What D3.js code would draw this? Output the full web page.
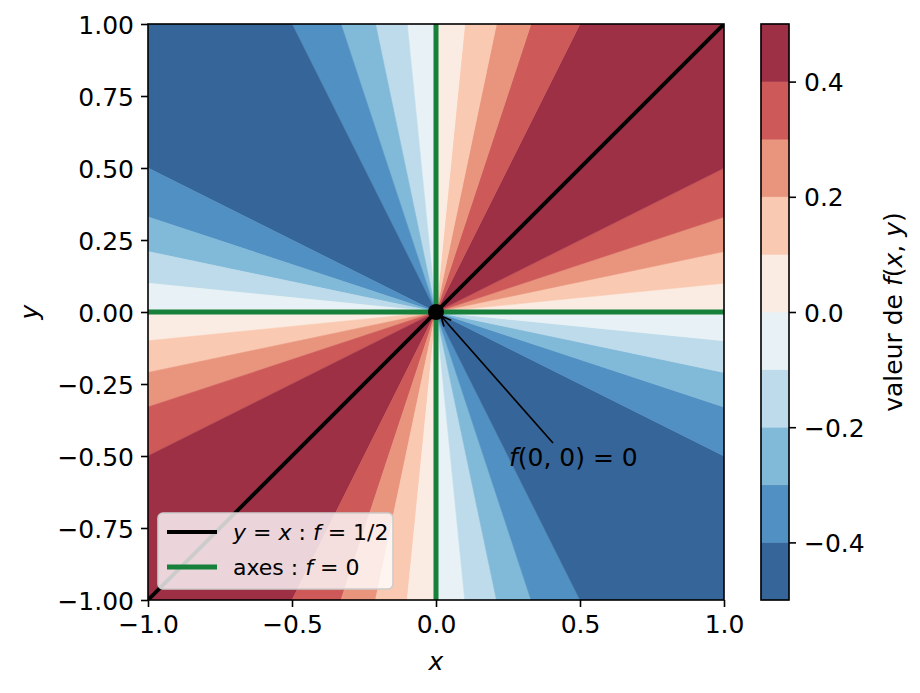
<!DOCTYPE html>
<html>
<head>
<meta charset="utf-8">
<script src="https://cdn.jsdelivr.net/npm/d3@7"></script>
<style>
body { margin: 0; background: #fff; }
svg { font-family: "DejaVu Sans", sans-serif; }
</style>
</head>
<body>
<div id="chart"></div>
<script>
// contour levels and the colour of each band (RdBu_r, alpha 0.85 over white)
const levels = [-0.5, -0.4, -0.3, -0.2, -0.1, 0.0, 0.1, 0.2, 0.3, 0.4, 0.5];
const bandColors = ['#366699', '#5190c2', '#81b9d8', '#bddbeb', '#e8f1f5',
                    '#fbece3', '#fac9b2', '#e9957e', '#cd5959', '#9e3046'];
// where the |f| = 0.1 .. 0.4 boundaries hit the frame (short side / long side)
const boundaryLevels = [0.1, 0.2, 0.3, 0.4];
const boundaryRatios = [0.10, 0.21, 0.33, 0.50];
const xTicks = [-1.0, -0.5, 0.0, 0.5, 1.0];
const yTicks = [-1.0, -0.75, -0.5, -0.25, 0.0, 0.25, 0.5, 0.75, 1.0];
const cbarTicks = [-0.4, -0.2, 0.0, 0.2, 0.4];
const diagonal = [[-1, -1], [1, 1]];
const origin = [0, 0];

const width = 920;
const height = 693;
const margin = { top: 24, left: 148 };
const size = 576;

const svg = d3.select('#chart')
    .append('svg')
    .attr('width', width)
    .attr('height', height);

const xScale = d3.scaleLinear().domain([-1, 1]).range([margin.left, margin.left + size]);
const yScale = d3.scaleLinear().domain([-1, 1]).range([margin.top + size, margin.top]);

svg.append('clipPath')
    .attr('id', 'plot-clip')
    .append('rect')
    .attr('x', margin.left)
    .attr('y', margin.top)
    .attr('width', size)
    .attr('height', size);

const plot = svg.append('g').attr('clip-path', 'url(#plot-clip)');

// point where a ray from the origin leaves the square [-1,1]^2
function framePoint(deg)
{
    const c = Math.cos(deg * Math.PI / 180);
    const s = Math.sin(deg * Math.PI / 180);
    const m = Math.max(Math.abs(c), Math.abs(s));
    return [c / m, s / m];
}

// boundary rays in the first quadrant, from the x axis up to the y axis
const n = boundaryLevels.length;
const low = boundaryRatios.map(r => Math.atan(r) * 180 / Math.PI);
const q1Angles = [0, ...low, ...low.slice().reverse().map(a => 90 - a), 90];

const wedges = [];
for (let q = 0; q < 4; q++) {
    const sign = q % 2 === 0 ? 1 : -1;
    for (let i = 0; i < q1Angles.length - 1; i++) {
        const a1 = q * 90 + q1Angles[i];
        const a2 = q * 90 + q1Angles[i + 1];
        const k = Math.min(i, 2 * n - i);
        const pts = [origin, framePoint(a1)];
        for (let c = 45; c < 360; c += 90) {
            if (c > a1 && c < a2) pts.push(framePoint(c));
        }
        pts.push(framePoint(a2));
        wedges.push({ pts: pts, color: bandColors[sign > 0 ? 5 + k : 4 - k] });
    }
}

const line = d3.line().x(d => xScale(d[0])).y(d => yScale(d[1]));

plot.selectAll('path.band')
    .data(wedges)
    .enter()
    .append('path')
    .attr('class', 'band')
    .attr('d', d => line(d.pts) + 'Z')
    .attr('fill', d => d.color)
    .attr('stroke', d => d.color)
    .attr('stroke-width', 0.6);

// y = x, then the two axes
plot.append('path')
    .attr('d', line(diagonal))
    .attr('stroke', '#000')
    .attr('stroke-width', 3.8)
    .attr('fill', 'none');

plot.append('line')
    .attr('x1', xScale(-1)).attr('x2', xScale(1))
    .attr('y1', yScale(0)).attr('y2', yScale(0))
    .attr('stroke', '#17803a')
    .attr('stroke-width', 5);

plot.append('line')
    .attr('x1', xScale(0)).attr('x2', xScale(0))
    .attr('y1', yScale(-1)).attr('y2', yScale(1))
    .attr('stroke', '#17803a')
    .attr('stroke-width', 5);

svg.append('circle')
    .attr('cx', xScale(origin[0]))
    .attr('cy', yScale(origin[1]))
    .attr('r', 8)
    .attr('fill', '#000');

// annotation f(0,0) = 0
const tipX = xScale(origin[0]) + 5;
const tipY = yScale(origin[1]) + 4;
svg.append('line')
    .attr('x1', 553).attr('y1', 443)
    .attr('x2', tipX).attr('y2', tipY)
    .attr('stroke', '#000')
    .attr('stroke-width', 1.7);

const ang = Math.atan2(443 - tipY, 553 - tipX);
const head = 11;
svg.append('path')
    .attr('d', `M${tipX + head * Math.cos(ang - 0.45)},${tipY + head * Math.sin(ang - 0.45)}
                L${tipX},${tipY}
                L${tipX + head * Math.cos(ang + 0.45)},${tipY + head * Math.sin(ang + 0.45)}`)
    .attr('stroke', '#000')
    .attr('stroke-width', 1.7)
    .attr('fill', 'none');

const ann = svg.append('text')
    .attr('x', 509)
    .attr('y', 466)
    .attr('font-size', 25);
ann.append('tspan').attr('font-style', 'italic').text('f');
ann.append('tspan').text('(0, 0) = 0');

// axes
const fmtY = d3.format('.2f');
const fmtX = d3.format('.1f');

const xAxis = svg.append('g')
    .attr('transform', `translate(0, ${margin.top + size})`)
    .call(d3.axisBottom(xScale).tickValues(xTicks).tickFormat(fmtX)
        .tickSize(7).tickSizeOuter(0).tickPadding(7));

const yAxis = svg.append('g')
    .attr('transform', `translate(${margin.left}, 0)`)
    .call(d3.axisLeft(yScale).tickValues(yTicks).tickFormat(fmtY)
        .tickSize(7).tickSizeOuter(0).tickPadding(7));

[xAxis, yAxis].forEach(g => {
    g.select('.domain').remove();
    g.selectAll('line').attr('stroke', '#000').attr('stroke-width', 1.6);
    g.selectAll('text').attr('font-size', 25).attr('fill', '#000')
        .attr('font-family', '"DejaVu Sans", sans-serif');
});
yAxis.selectAll('text').attr('dy', '0.36em');
xAxis.selectAll('text').attr('dy', '0.76em');

svg.append('rect')
    .attr('x', margin.left)
    .attr('y', margin.top)
    .attr('width', size)
    .attr('height', size)
    .attr('fill', 'none')
    .attr('stroke', '#000')
    .attr('stroke-width', 1.6);

svg.append('text')
    .attr('x', xScale(0))
    .attr('y', 670)
    .attr('text-anchor', 'middle')
    .attr('font-size', 25)
    .attr('font-style', 'italic')
    .text('x');

svg.append('text')
    .attr('transform', `translate(38, ${yScale(0)}) rotate(-90)`)
    .attr('text-anchor', 'middle')
    .attr('font-size', 25)
    .attr('font-style', 'italic')
    .text('y');

// legend
const legend = svg.append('g');
legend.append('rect')
    .attr('x', 158).attr('y', 513)
    .attr('width', 235).attr('height', 76)
    .attr('rx', 5)
    .attr('fill', '#fff')
    .attr('fill-opacity', 0.8)
    .attr('stroke', '#cccccc')
    .attr('stroke-width', 1.6);

const legendItems = [
    { color: '#000', width: 3.8, parts: [['y', true], [' = ', false], ['x', true], [' : ', false], ['f', true], [' = 1/2', false]] },
    { color: '#17803a', width: 5, parts: [['axes : ', false], ['f', true], [' = 0', false]] }
];
legendItems.forEach((item, i) => {
    const ly = 532 + i * 35;
    legend.append('line')
        .attr('x1', 167).attr('x2', 217)
        .attr('y1', ly).attr('y2', ly)
        .attr('stroke', item.color)
        .attr('stroke-width', item.width);
    const t = legend.append('text')
        .attr('x', 233)
        .attr('y', ly + 8)
        .attr('font-size', 22)
        .attr('fill', '#000');
    item.parts.forEach(p => {
        t.append('tspan')
            .attr('font-style', p[1] ? 'italic' : 'normal')
            .text(p[0]);
    });
});

// colour bar
const cbX = 761;
const cbW = 28;
const cScale = d3.scaleLinear().domain([-0.5, 0.5]).range([margin.top + size, margin.top]);

svg.selectAll('rect.cbar')
    .data(bandColors)
    .enter()
    .append('rect')
    .attr('class', 'cbar')
    .attr('x', cbX)
    .attr('width', cbW)
    .attr('y', (d, i) => cScale(levels[i + 1]))
    .attr('height', (d, i) => cScale(levels[i]) - cScale(levels[i + 1]))
    .attr('fill', d => d)
    .attr('stroke', d => d)
    .attr('stroke-width', 0.5);

svg.append('rect')
    .attr('x', cbX)
    .attr('y', margin.top)
    .attr('width', cbW)
    .attr('height', size)
    .attr('fill', 'none')
    .attr('stroke', '#000')
    .attr('stroke-width', 1.6);

const cAxis = svg.append('g')
    .attr('transform', `translate(${cbX + cbW}, 0)`)
    .call(d3.axisRight(cScale).tickValues(cbarTicks).tickFormat(d3.format('.1f'))
        .tickSize(7).tickSizeOuter(0).tickPadding(8));
cAxis.select('.domain').remove();
cAxis.selectAll('line').attr('stroke', '#000').attr('stroke-width', 1.6);
cAxis.selectAll('text').attr('font-size', 25).attr('fill', '#000').attr('dy', '0.36em')
    .attr('font-family', '"DejaVu Sans", sans-serif');

const cLabel = svg.append('text')
    .attr('transform', `translate(902, ${cScale(0)}) rotate(-90)`)
    .attr('text-anchor', 'middle')
    .attr('font-size', 25);
cLabel.append('tspan').text('valeur de ');
cLabel.append('tspan').attr('font-style', 'italic').text('f');
cLabel.append('tspan').text('(');
cLabel.append('tspan').attr('font-style', 'italic').text('x');
cLabel.append('tspan').text(', ');
cLabel.append('tspan').attr('font-style', 'italic').text('y');
cLabel.append('tspan').text(')');
</script>
</body>
</html>
